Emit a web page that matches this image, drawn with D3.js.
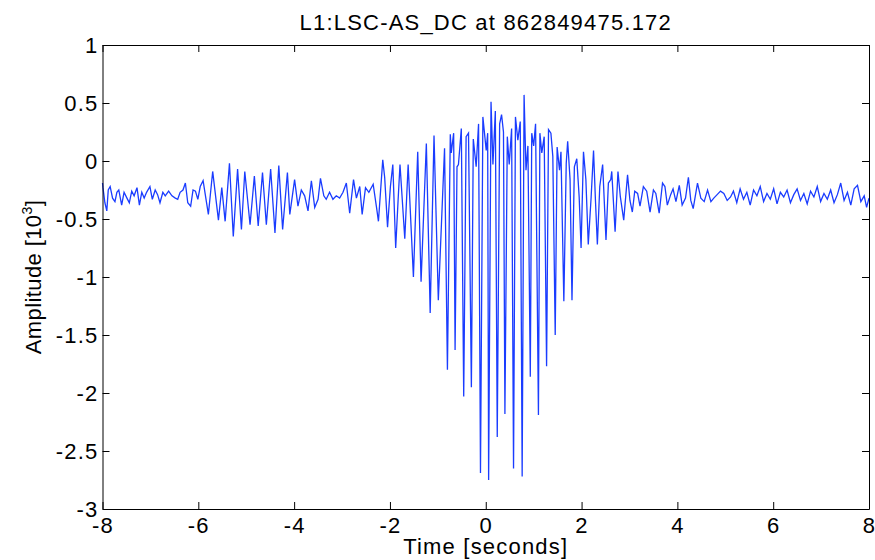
<!DOCTYPE html>
<html>
<head>
<meta charset="utf-8">
<script src="https://d3js.org/d3.v7.min.js"></script>
<style>
    html, body { margin: 0; padding: 0; overflow: hidden; background: #fff; }
    text { font-family: "Liberation Sans", Arial, Helvetica, sans-serif; fill: #000; }
</style>
</head>
<body>
<svg id="chart" width="875" height="560"></svg>
<script>
// amplitude [10^3], peak / trough by peak / trough
var times = [
    -8.00, -7.99, -7.95, -7.91, -7.88, -7.84, -7.79, -7.74, -7.70, -7.66,
    -7.60, -7.55, -7.49, -7.44, -7.39, -7.34, -7.28, -7.23, -7.18, -7.13,
    -7.08, -7.01, -6.96, -6.90, -6.85, -6.80, -6.74, -6.69, -6.62, -6.55,
    -6.48, -6.43, -6.38, -6.32, -6.27, -6.22, -6.16, -6.11, -6.06, -6.01,
    -5.96, -5.90, -5.79, -5.70, -5.58, -5.51, -5.44, -5.35, -5.27, -5.18,
    -5.10, -5.03, -4.92, -4.83, -4.75, -4.66, -4.58, -4.49, -4.40, -4.32,
    -4.24, -4.14, -4.09, -3.99, -3.92, -3.85, -3.78, -3.71, -3.64, -3.57,
    -3.50, -3.45, -3.38, -3.33, -3.26, -3.19, -3.12, -3.05, -2.98, -2.91,
    -2.84, -2.76, -2.70, -2.63, -2.58, -2.51, -2.44, -2.35, -2.28, -2.24,
    -2.15, -2.11, -2.05, -1.99, -1.94, -1.88, -1.83, -1.79, -1.69, -1.62,
    -1.51, -1.42, -1.35, -1.24, -1.16, -1.08, -0.99, -0.86, -0.80, -0.74,
    -0.72, -0.67, -0.64, -0.60, -0.57, -0.51, -0.46, -0.41, -0.36, -0.30,
    -0.26, -0.20, -0.15, -0.11, -0.06, 0.01, 0.04, 0.06, 0.11, 0.15,
    0.20, 0.24, 0.29, 0.33, 0.37, 0.40, 0.45, 0.49, 0.54, 0.58,
    0.62, 0.67, 0.72, 0.76, 0.80, 0.84, 0.88, 0.93, 0.96, 1.00,
    1.04, 1.10, 1.13, 1.17, 1.22, 1.27, 1.31, 1.36, 1.40, 1.45,
    1.49, 1.54, 1.57, 1.63, 1.68, 1.71, 1.76, 1.80, 1.85, 1.90,
    1.95, 1.99, 2.04, 2.09, 2.14, 2.20, 2.25, 2.29, 2.33, 2.38,
    2.44, 2.51, 2.56, 2.61, 2.63, 2.70, 2.76, 2.81, 2.88, 2.96,
    3.01, 3.06, 3.11, 3.17, 3.22, 3.29, 3.36, 3.43, 3.50, 3.55,
    3.62, 3.69, 3.74, 3.79, 3.86, 3.91, 3.97, 4.04, 4.10, 4.17,
    4.23, 4.28, 4.33, 4.42, 4.49, 4.56, 4.63, 4.70, 4.76, 4.83,
    4.90, 4.97, 5.04, 5.11, 5.17, 5.24, 5.31, 5.38, 5.45, 5.52,
    5.59, 5.66, 5.73, 5.80, 5.87, 5.94, 6.01, 6.08, 6.15, 6.22,
    6.29, 6.36, 6.43, 6.50, 6.57, 6.64, 6.71, 6.78, 6.85, 6.92,
    6.99, 7.06, 7.13, 7.20, 7.27, 7.34, 7.41, 7.48, 7.55, 7.62,
    7.69, 7.76, 7.83, 7.90, 7.95, 8.00
];
var amps = [
    -0.19, -0.23, -0.36, -0.43, -0.25, -0.22, -0.32, -0.35, -0.27, -0.25,
    -0.38, -0.27, -0.32, -0.36, -0.26, -0.30, -0.23, -0.38, -0.27, -0.32,
    -0.27, -0.22, -0.33, -0.25, -0.29, -0.36, -0.27, -0.30, -0.26, -0.30,
    -0.32, -0.33, -0.27, -0.25, -0.19, -0.36, -0.39, -0.25, -0.26, -0.33,
    -0.22, -0.17, -0.46, -0.09, -0.51, -0.23, -0.52, -0.02, -0.65, -0.07,
    -0.59, -0.09, -0.55, -0.13, -0.56, -0.10, -0.55, -0.07, -0.62, -0.04,
    -0.59, -0.10, -0.46, -0.16, -0.39, -0.25, -0.30, -0.43, -0.17, -0.40,
    -0.33, -0.15, -0.30, -0.33, -0.27, -0.33, -0.30, -0.32, -0.27, -0.19,
    -0.45, -0.16, -0.32, -0.22, -0.46, -0.23, -0.27, -0.20, -0.40, -0.52,
    0.01, -0.14, -0.57, -0.22, -0.03, -0.75, -0.34, -0.03, -0.67, -0.03,
    -1.00, 0.08, -1.04, 0.15, -1.31, 0.22, -1.20, 0.11, -1.80, 0.23,
    0.07, 0.24, -1.63, -0.05, -0.03, 0.28, -2.03, 0.21, 0.24, -1.95,
    0.19, -0.05, 0.32, -2.69, 0.38, 0.09, 0.24, -2.75, 0.51, -0.03,
    0.43, -2.38, 0.32, 0.40, 0.25, -2.18, 0.21, -0.03, 0.28, -2.65,
    0.38, 0.18, 0.34, -2.72, 0.57, -0.08, 0.13, -1.86, 0.24, 0.13,
    0.32, -2.19, 0.24, 0.07, 0.21, -1.77, 0.27, 0.24, 0.04, -1.50,
    0.12, -0.08, 0.08, -1.21, -0.02, 0.17, -0.16, -1.20, -0.05, 0.02,
    -0.31, -0.75, 0.08, -0.16, -0.72, -0.31, 0.09, -0.34, -0.72, -0.22,
    -0.03, -0.68, -0.19, -0.16, -0.09, -0.61, -0.09, -0.31, -0.51, -0.12,
    -0.34, -0.44, -0.26, -0.28, -0.39, -0.22, -0.26, -0.44, -0.25, -0.28,
    -0.45, -0.19, -0.22, -0.38, -0.29, -0.24, -0.35, -0.21, -0.38, -0.32,
    -0.14, -0.34, -0.41, -0.19, -0.32, -0.35, -0.25, -0.35, -0.32, -0.29,
    -0.26, -0.28, -0.34, -0.31, -0.26, -0.36, -0.24, -0.33, -0.27, -0.38,
    -0.25, -0.30, -0.22, -0.35, -0.28, -0.33, -0.24, -0.37, -0.27, -0.31,
    -0.25, -0.36, -0.29, -0.24, -0.34, -0.28, -0.37, -0.26, -0.31, -0.22,
    -0.35, -0.28, -0.33, -0.25, -0.36, -0.29, -0.19, -0.34, -0.27, -0.38,
    -0.24, -0.21, -0.35, -0.30, -0.40, -0.32
];

var xTicks = [-8, -6, -4, -2, 0, 2, 4, 6, 8];
var yTicks = [1, 0.5, 0, -0.5, -1, -1.5, -2, -2.5, -3];

var title = "L1:LSC-AS_DC at 862849475.172";

var svg = d3.select("#chart");

// plot box in pixels (window.top is read-only, so no plain "top" here)
var box = {left: 102.5, right: 869, top: 45, bottom: 509};
var fontSize = 22, spacing = "1.2px";

var x = d3.scaleLinear().domain([-8, 8]).range([box.left, box.right]);
var y = d3.scaleLinear().domain([-3, 1]).range([box.bottom, box.top]);

var points = times.map(function(t, i) { return [t, amps[i]]; });

var line = d3.line()
    .x(function(d) { return x(d[0]); })
    .y(function(d) { return y(d[1]); });

svg.append("path")
    .datum(points)
    .attr("fill", "none")
    .attr("stroke", "#1a3cff")
    .attr("stroke-width", 1.3)
    .attr("d", line);

// axes, ticks pointing inward like matlab
var xAxis = svg.append("g")
    .attr("transform", "translate(0," + box.bottom + ")")
    .call(d3.axisBottom(x).tickValues(xTicks).tickSizeInner(-7).tickSizeOuter(0).tickPadding(8)
        .tickFormat(function(d) { return String(d); }));

svg.append("g")
    .attr("transform", "translate(0," + box.top + ")")
    .call(d3.axisTop(x).tickValues(xTicks).tickSizeInner(-7).tickSizeOuter(0).tickFormat(""));

var yAxis = svg.append("g")
    .attr("transform", "translate(" + box.left + ",0)")
    .call(d3.axisLeft(y).tickValues(yTicks).tickSizeInner(-7).tickSizeOuter(0).tickPadding(4)
        .tickFormat(function(d) { return String(d); }));

svg.append("g")
    .attr("transform", "translate(" + box.right + ",0)")
    .call(d3.axisRight(y).tickValues(yTicks).tickSizeInner(-7).tickSizeOuter(0).tickFormat(""));

svg.selectAll(".domain").attr("stroke", "#000").attr("stroke-width", 1);
svg.selectAll(".tick line").attr("stroke", "#000").attr("stroke-width", 1);

xAxis.selectAll("text")
    .attr("font-size", fontSize)
    .attr("font-family", "Liberation Sans, Arial, sans-serif")
    .attr("letter-spacing", spacing)
    .attr("fill", "#000");

yAxis.selectAll("text")
    .attr("font-size", fontSize)
    .attr("font-family", "Liberation Sans, Arial, sans-serif")
    .attr("letter-spacing", spacing)
    .attr("fill", "#000")
    .attr("dy", "0.36em");

svg.append("text")
    .attr("x", (box.left + box.right) / 2)
    .attr("y", 30)
    .attr("text-anchor", "middle")
    .attr("font-size", fontSize)
    .attr("letter-spacing", spacing)
    .text(title);

svg.append("text")
    .attr("x", (box.left + box.right) / 2)
    .attr("y", 554)
    .attr("text-anchor", "middle")
    .attr("font-size", fontSize)
    .attr("letter-spacing", spacing)
    .text("Time [seconds]");

var yl = svg.append("text")
    .attr("transform", "translate(41," + ((box.top + box.bottom) / 2) + ") rotate(-90)")
    .attr("text-anchor", "middle")
    .attr("font-size", fontSize)
    .attr("letter-spacing", "0.4px");
yl.append("tspan").text("Amplitude [10");
yl.append("tspan").attr("font-size", 14).attr("dy", -9).text("3");
yl.append("tspan").attr("dy", 9).text("]");
</script>
</body>
</html>
